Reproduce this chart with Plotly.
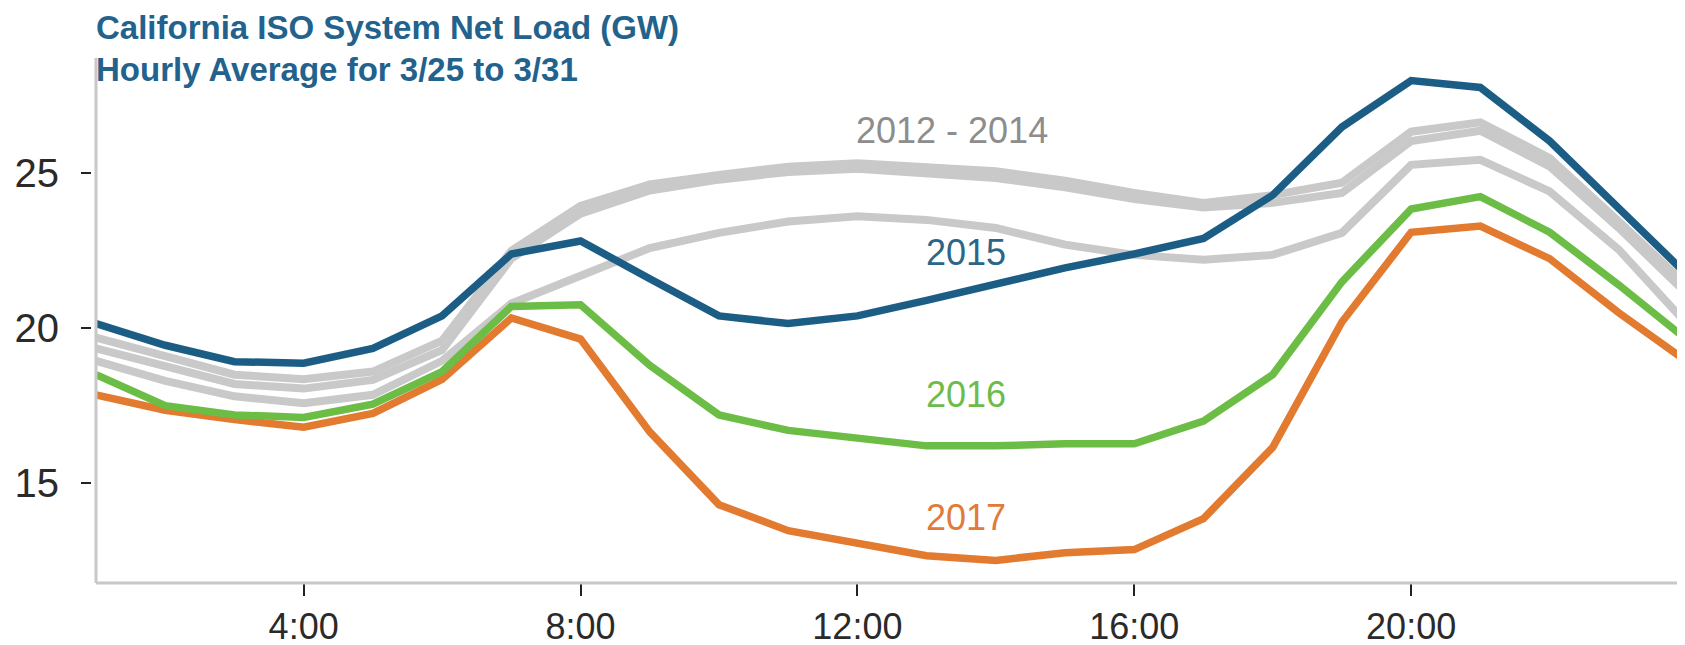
import plotly.graph_objects as go

hours = list(range(1, 25))

load_2012_a = [19.7, 19.1, 18.5, 18.35, 18.6, 19.6, 22.5, 23.95, 24.65, 24.95, 25.22, 25.33,
               25.2, 25.07, 24.77, 24.37, 24.05, 24.3, 24.7, 26.35, 26.65, 25.5, 23.45, 21.35]
load_2012_b = [19.35, 18.78, 18.2, 18.05, 18.33, 19.3, 22.25, 23.7, 24.45, 24.8, 25.05, 25.15,
               24.98, 24.85, 24.55, 24.17, 23.9, 24.05, 24.37, 26.05, 26.38, 25.23, 23.24, 21.08]
load_2012_c = [18.95, 18.3, 17.8, 17.58, 17.85, 18.95, 20.8, 21.73, 22.59, 23.08, 23.45, 23.62,
               23.5, 23.24, 22.7, 22.37, 22.21, 22.37, 23.08, 25.28, 25.44, 24.42, 22.54, 20.1]
load_2015 = [20.15, 19.45, 18.92, 18.87, 19.35, 20.4, 22.4, 22.82, 21.6, 20.4, 20.15, 20.4,
             20.9, 21.45, 21.95, 22.4, 22.9, 24.3, 26.5, 28.0, 27.78, 26.05, 23.9, 21.7]
load_2016 = [18.5, 17.5, 17.2, 17.12, 17.55, 18.6, 20.7, 20.76, 18.8, 17.2, 16.7, 16.45,
             16.2, 16.2, 16.27, 16.27, 17.0, 18.5, 21.5, 23.85, 24.25, 23.1, 21.4, 19.6]
load_2017 = [17.85, 17.35, 17.05, 16.8, 17.25, 18.35, 20.33, 19.65, 16.65, 14.3, 13.46, 13.06,
             12.65, 12.5, 12.75, 12.85, 13.85, 16.15, 20.2, 23.1, 23.3, 22.25, 20.5, 18.9]

x_tick_vals = [4, 8, 12, 16, 20]
x_tick_text = ["4:00", "8:00", "12:00", "16:00", "20:00"]
y_tick_vals = [15, 20, 25]

GRAY = "#c9c9c9"
BLUE = "#1c5d85"
GREEN = "#6cbd45"
ORANGE = "#e27a30"

W, H = 1685, 645
ML, MR, MT, MB = 83, 5, 50, 70
PW = W - ML - MR
PH = H - MT - MB

fig = go.Figure()
for ys in (load_2012_c, load_2012_b, load_2012_a):
    fig.add_trace(go.Scatter(x=hours, y=ys, mode="lines",
                             line=dict(color=GRAY, width=8), hoverinfo="skip"))
for ys, c in ((load_2017, ORANGE), (load_2016, GREEN), (load_2015, BLUE)):
    fig.add_trace(go.Scatter(x=hours, y=ys, mode="lines",
                             line=dict(color=c, width=7.5), hoverinfo="skip"))

base_family = "Liberation Sans, Arial, sans-serif"

fig.update_layout(
    width=W, height=H,
    margin=dict(l=ML, r=MR, t=MT, b=MB),
    paper_bgcolor="white", plot_bgcolor="white",
    showlegend=False,
    xaxis=dict(domain=[5 / PW, 1], range=[1, 24], anchor="free", position=0,
               showline=False, showgrid=False, zeroline=False,
               tickvals=x_tick_vals, ticktext=x_tick_text,
               ticks="outside", ticklen=12, tickwidth=2, tickcolor="#222",
               tickfont=dict(family=base_family, size=36, color="#2a2a2a")),
    yaxis=dict(domain=[0, 1], range=[11.77, 28.73], anchor="free", position=0,
               showline=False, showgrid=False, zeroline=False,
               tickvals=y_tick_vals,
               ticks="outside", ticklen=10, tickwidth=2, tickcolor="#222",
               ticklabelstandoff=14,
               tickfont=dict(family=base_family, size=40, color="#2a2a2a")),
)

fig.add_shape(type="line", xref="x domain", yref="y domain", x0=0, x1=0, y0=0, y1=1,
              line=dict(color="#c8c8c8", width=3))
fig.add_shape(type="line", xref="x domain", yref="y domain", x0=0, x1=1, y0=0, y1=0,
              line=dict(color="#c8c8c8", width=3))

def px_to_paper_y(py):
    return (H - MB - py) / PH

title_font = dict(family=base_family, size=33, color="#22628c")
fig.add_annotation(text="<b>California ISO System Net Load (GW)</b>", xref="paper", yref="paper",
                   x=(86 - ML) / PW, y=px_to_paper_y(19), xanchor="left", yanchor="middle",
                   showarrow=False, font=title_font)
fig.add_annotation(text="<b>Hourly Average for 3/25 to 3/31</b>", xref="paper", yref="paper",
                   x=(86 - ML) / PW, y=px_to_paper_y(61), xanchor="left", yanchor="middle",
                   showarrow=False, font=title_font)

labels = [("2012 - 2014", 13.37, 26.4, "#8d8d8d"),
          ("2015", 13.57, 22.45, "#2b6689"),
          ("2016", 13.57, 17.85, "#6dbb4a"),
          ("2017", 13.57, 13.9, "#e07b39")]
for txt, lx, ly, col in labels:
    fig.add_annotation(text=txt, x=lx, y=ly, xref="x", yref="y", showarrow=False,
                       xanchor="center", yanchor="middle",
                       font=dict(family=base_family, size=36, color=col))

fig.write_html("out.html")
